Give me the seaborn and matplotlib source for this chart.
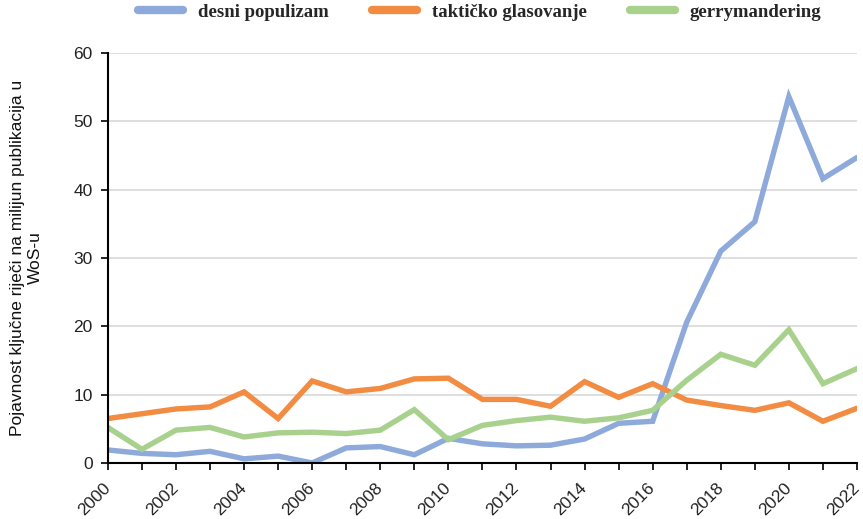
import numpy as np
import pandas as pd
import matplotlib
matplotlib.use("Agg")
import matplotlib.pyplot as plt
import seaborn as sns

years = list(range(2000, 2023))
desni_populizam = [1.9, 1.4, 1.2, 1.7, 0.6, 1.0, 0.0, 2.2, 2.4, 1.2, 3.6, 2.8,
                   2.5, 2.6, 3.5, 5.8, 6.1, 20.6, 31.0, 35.3, 53.6, 41.6, 44.7]
takticko_glasovanje = [6.5, 7.2, 7.9, 8.2, 10.4, 6.5, 12.0, 10.4, 10.9, 12.3, 12.4, 9.3,
                       9.3, 8.3, 11.9, 9.6, 11.6, 9.2, 8.4, 7.7, 8.8, 6.1, 8.0]
gerrymandering = [5.2, 2.0, 4.8, 5.2, 3.8, 4.4, 4.5, 4.3, 4.8, 7.8, 3.4, 5.5,
                  6.2, 6.7, 6.1, 6.6, 7.7, 12.1, 15.9, 14.3, 19.5, 11.6, 13.8]
series_names = ["desni populizam", "taktičko glasovanje", "gerrymandering"]
colors = ["#8eaadb", "#f28c43", "#a9d18e"]

df = pd.DataFrame({
    "godina": years * 3,
    "vrijednost": desni_populizam + takticko_glasovanje + gerrymandering,
    "pojam": [series_names[0]] * len(years) + [series_names[1]] * len(years)
             + [series_names[2]] * len(years),
})

sns.set_theme(style="white")
plt.rcParams['font.family'] = ['Liberation Sans', 'DejaVu Sans']

fig = plt.figure(figsize=(8.63, 5.19), dpi=100)
ax = fig.add_axes([0.125, 0.108, 0.868, 0.79])

sns.lineplot(data=df, x="godina", y="vrijednost", hue="pojam", hue_order=series_names,
             palette=colors, linewidth=3.9, legend=False, ax=ax)
for line in ax.lines:
    line.set_solid_joinstyle("miter")

ax.set_xlim(2000, 2022)
ax.set_ylim(0, 60)
ax.set_yticks(np.arange(0, 61, 10))
ax.set_xticks(years, minor=False)
ax.set_xticklabels([str(y) if y % 2 == 0 else "" for y in years], rotation=45,
                   ha="right", va="center", rotation_mode="anchor", fontsize=12.5,
                   color="#222222")
ax.tick_params(axis="y", labelsize=12.5, labelcolor="#222222", length=5, width=1.2,
               direction="out", left=True, color="black", pad=6)
ax.tick_params(axis="x", length=5, width=1.2, direction="out", bottom=True, color="black",
               pad=11)
ax.yaxis.grid(True, color="#d9d9d9", linewidth=1.2)
ax.set_axisbelow(True)
sns.despine(ax=ax, top=True, right=True)
for s in ["left", "bottom"]:
    ax.spines[s].set_color("black")
    ax.spines[s].set_linewidth(1.5)

ax.set_xlabel("")
ax.set_ylabel("Pojavnost ključne riječi na milijun publikacija u\nWoS-u", fontsize=12.5,
              color="#111111", labelpad=22)

handles = [plt.Line2D([0], [0], color=c, linewidth=6) for c in colors]
fig.legend(handles, series_names, loc="upper center", bbox_to_anchor=(0.556, 1.025),
           ncol=3, frameon=False, handlelength=2.4, columnspacing=2.3,
           prop={"family": "Liberation Serif", "weight": "bold", "size": 13.5})

fig.savefig("out.png", dpi=100)
